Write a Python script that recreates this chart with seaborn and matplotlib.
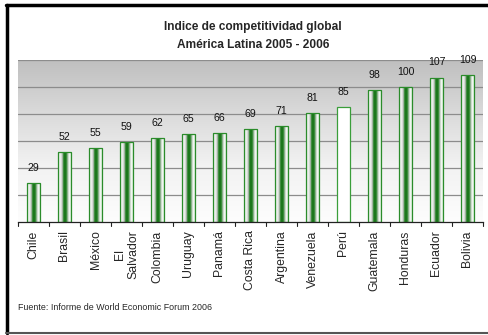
import numpy as np
import pandas as pd
import matplotlib
matplotlib.use("Agg")
import matplotlib.pyplot as plt
from matplotlib.colors import LinearSegmentedColormap
from matplotlib.lines import Line2D
import seaborn as sns

# Ranking values per country
paises = ["Chile", "Brasil", "México", "El\nSalvador", "Colombia", "Uruguay",
          "Panamá", "Costa Rica", "Argentina", "Venezuela", "Perú",
          "Guatemala", "Honduras", "Ecuador", "Bolivia"]
indice = [29, 52, 55, 59, 62, 65, 66, 69, 71, 81, 85, 98, 100, 107, 109]
destacado = "Perú"

titulo = "Indice de competitividad global\nAmérica Latina 2005 - 2006"
fuente = "Fuente: Informe de World Economic Forum 2006"

sns.set_theme(style="white")
plt.rcParams["font.family"] = ["Liberation Sans", "DejaVu Sans"]

df = pd.DataFrame({"pais": paises, "indice": indice})

fig = plt.figure(figsize=(4.89, 3.35), dpi=100)
ax = fig.add_axes([18 / 489, 1 - 222 / 335, 465 / 489, 162 / 335])

sns.barplot(data=df, x="pais", y="indice", ax=ax, width=0.42,
            color="white", edgecolor="#2b8c2b", linewidth=0.9,
            saturation=1, zorder=3)

# vertical gray gradient behind the bars
bg = np.linspace(0, 1, 256).reshape(-1, 1)
bg_cmap = LinearSegmentedColormap.from_list(
    "bg", [(0.0, "#fdfdfd"), (0.35, "#f2f2f2"), (0.7, "#d8d8d8"), (1.0, "#bfbfbf")])
ax.imshow(bg, cmap=bg_cmap, aspect="auto", origin="lower",
          extent=(0, 1, 0, 1), transform=ax.transAxes, zorder=0)

# horizontal grid lines
for v in range(20, 121, 20):
    ax.axhline(v, color="#8c8c8c", lw=0.9, zorder=1)

# cylinder shading for each bar
bar_cmap = LinearSegmentedColormap.from_list(
    "bar", [(0.0, "#3aa03a"), (0.08, "#f4f7f4"), (0.22, "#e6e8e6"),
            (0.32, "#a9b3a9"), (0.40, "#2a862a"), (0.50, "#146e14"),
            (0.60, "#2a862a"), (0.70, "#9fb89f"), (0.80, "#f3f7f3"),
            (0.90, "#eef6ee"), (1.0, "#86c886")])
shade = np.linspace(0, 1, 64).reshape(1, -1)
for patch, pais in zip(ax.patches, paises):
    if pais == destacado:
        patch.set_edgecolor("#3a9e3a")
        continue
    patch.set_facecolor("none")
    x0, y0 = patch.get_x(), patch.get_y()
    w, h = patch.get_width(), patch.get_height()
    im = ax.imshow(shade, cmap=bar_cmap, aspect="auto",
                   extent=(x0, x0 + w, y0, y0 + h), zorder=2)
    im.set_clip_path(patch)

ax.set_xlim(-0.5, len(paises) - 0.5)
ax.set_ylim(0, 120)

# value labels above the bars
for i, v in enumerate(indice):
    ax.text(i, v + 7.5, str(v), ha="center", va="bottom", fontsize=7.6,
            color="#111111", zorder=4)

ax.set_xlabel("")
ax.set_ylabel("")
ax.set_yticks([])
ax.set_xticks(range(len(paises)))
ax.set_xticklabels(paises, rotation=90, fontsize=8.8, va="top", ha="center",
                   linespacing=1.1)
ax.tick_params(axis="x", length=0, pad=6)
for b in np.arange(-0.5, len(paises), 1):
    ax.plot([b, b], [0, -3], color="#222222", lw=0.8, clip_on=False, zorder=4)
for s in ["top", "right", "left"]:
    ax.spines[s].set_visible(False)
ax.spines["bottom"].set_color("#222222")
ax.spines["bottom"].set_linewidth(0.9)
ax.spines["bottom"].set_zorder(5)

fig.text(253 / 489, 1 - 36 / 335, titulo, ha="center", va="center",
         fontsize=8.6, fontweight="bold", linespacing=1.75)
fig.text(18 / 489, 1 - 307 / 335, fuente, ha="left", va="center", fontsize=6.4)

# outer frame
fig.add_artist(Line2D([7 / 489, 7 / 489], [1 - 5 / 335, 1 - 333 / 335],
                      transform=fig.transFigure, color="black", lw=2.5))
fig.add_artist(Line2D([6 / 489, 1], [1 - 5 / 335, 1 - 5 / 335],
                      transform=fig.transFigure, color="black", lw=2.5))
fig.add_artist(Line2D([6 / 489, 1], [1 - 333 / 335, 1 - 333 / 335],
                      transform=fig.transFigure, color="#555555", lw=1.5))

fig.savefig("out.png", dpi=100)
